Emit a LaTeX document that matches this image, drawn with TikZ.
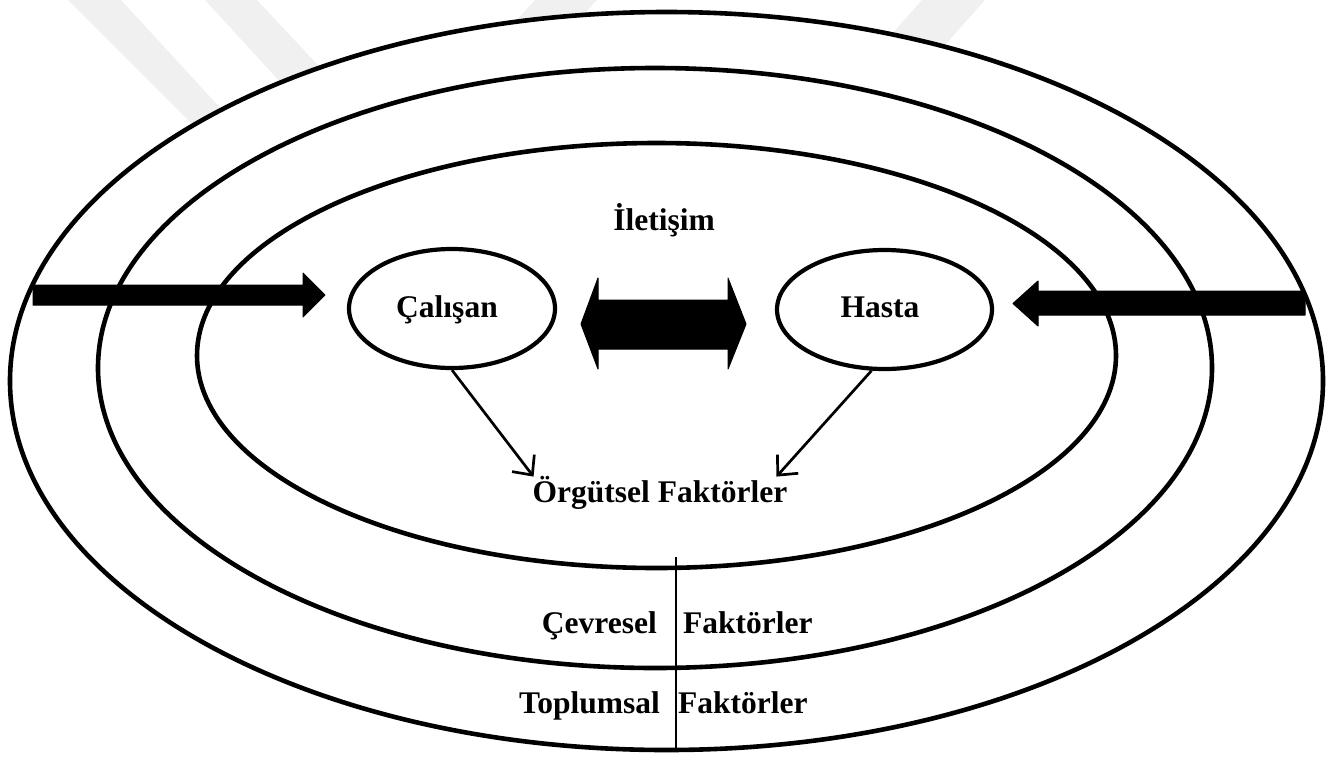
\documentclass[tikz,border=0pt]{standalone}
\usepackage{fontspec}
\setmainfont{Liberation Serif}
\usetikzlibrary{arrows.meta,calc,shapes.geometric}
\begin{document}
\begin{tikzpicture}[x=1pt,y=-1pt,
  ring/.style={draw=black,line width=4.6pt},
  party/.style={ellipse,draw=black,line width=4.2pt,inner sep=0pt},
  lbl/.style={inner sep=0pt,font=\fontsize{31.5}{36}\selectfont\bfseries},
  thinarrow/.style={draw=black,line width=2.7pt,
    -{Straight Barb[length=15pt,width=28pt,line width=2.7pt]}},
  blockarrow/.style={fill=black,draw=black,line width=1pt,line join=round},
  wmband/.style={fill=black!6,draw=none}]
\useasboundingbox (0,0) rectangle (1340,758);

% faint background bands
\fill[wmband] (68,0) -- (121,0) -- (224,112) -- (192,124) -- cycle;
\fill[wmband] (205,0) -- (257,0) -- (330,78) -- (282,84) -- cycle;
\fill[wmband] (535,0) -- (597,0) -- (575,24) -- (513,24) -- cycle;
\fill[wmband] (922,0) -- (985,0) -- (944,46) -- (881,46) -- cycle;
\fill[white] (666.5,381) ellipse [x radius=656.5pt, y radius=369pt];

% three nested rings
\draw[ring] (666.5,381) ellipse [x radius=656.5pt, y radius=369pt];
\draw[ring] (655,368) ellipse [x radius=557pt, y radius=300pt];
\draw[ring] (656.5,355.5) ellipse [x radius=459.5pt, y radius=212.5pt];

% divider in the lower band
\coordinate (divtop) at (676,557);
\coordinate (divbot) at (676,752);
\draw[line width=2.8pt] (divtop) -- (divbot);

% the two parties
\node[party,minimum width=206pt,minimum height=119pt] (cal) at (452,308.5) {};
\node[party,minimum width=215pt,minimum height=119pt] (has) at (884.5,309.5) {};

% labels
\node[lbl,anchor=base] (ilet) at (664,230) {İletişim};
\node[lbl,anchor=base] (calt) at (447,317) {Çalışan};
\node[lbl,anchor=base] (hast) at (880,317) {Hasta};
\node[lbl,anchor=base] (org) at (660,502) {Örgütsel Faktörler};
\node[lbl,anchor=base east] (cev) at (657,633) {Çevresel};
\node[lbl,anchor=base west] (cevf) at (683,633) {Faktörler};
\node[lbl,anchor=base east] (top) at (660,713) {Toplumsal};
\node[lbl,anchor=base west] (topf) at (678,713) {Faktörler};

% thin arrows to organisational factors
\draw[thinarrow] (cal.south) -- ($(org.north west)+(1,1)$);
\draw[thinarrow] (has.258) -- ($(org.north east)+(-11,1)$);

% two-way communication arrow
\coordinate (dl) at (581,324);
\coordinate (dr) at (746,324);
\fill[blockarrow] (dl) -- (598,278) -- (598,300) -- (728,300) -- (728,278)
  -- (dr) -- (728,369) -- (728,349) -- (598,349) -- (598,369) -- cycle;

% outer influences pointing inwards
\coordinate (ltail) at (33,295);
\coordinate (ltip) at (325,295);
\fill[blockarrow] (ltail) -- ++(0,-10) -- (303,285) -- (303,273) -- (ltip)
  -- (303,317) -- (303,305) -- (33,305) -- cycle;
\coordinate (rtail) at (1305,303);
\coordinate (rtip) at (1013,303.5);
\fill[blockarrow] (rtail) -- ++(0,-12) -- (1038,291) -- (1038,281) -- (rtip)
  -- (1038,326) -- (1038,315) -- (1305,315) -- cycle;
\end{tikzpicture}
\end{document}
